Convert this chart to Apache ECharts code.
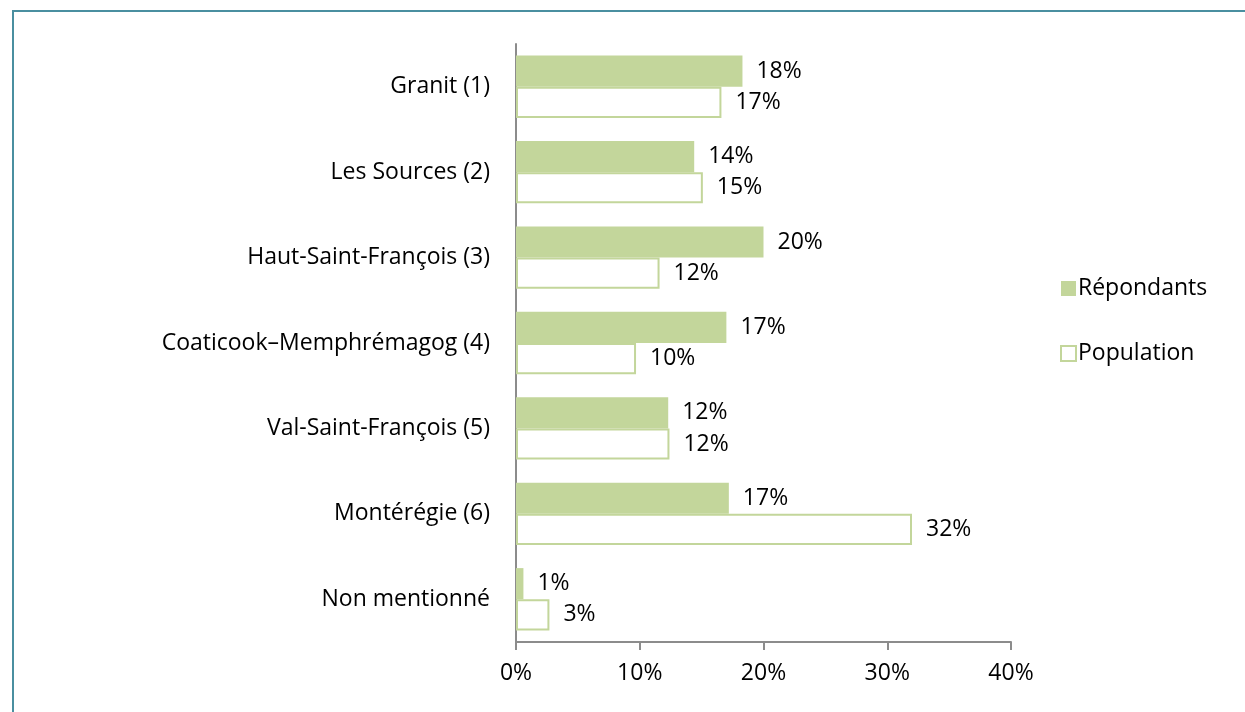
<!DOCTYPE html>
<html>
<head>
<meta charset="utf-8">
<script src="https://cdn.jsdelivr.net/npm/echarts@6/dist/echarts.min.js"></script>
<style>
  html, body { margin: 0; padding: 0; background: #fff; }
  #frame { position: absolute; left: 12px; top: 10px; width: 1240px; height: 710px;
           border-top: 2px solid #4a8fa0; border-left: 2px solid #4a8fa0; }
  #drew { position: absolute; left: 0; top: 0; width: 1245px; height: 712px; }
</style>
</head>
<body>
<div id="frame"></div>
<div id="drew"></div>
<script>
var categories = ['Granit (1)', 'Les Sources (2)', 'Haut-Saint-François (3)',
  'Coaticook–Memphrémagog (4)', 'Val-Saint-François (5)', 'Montérégie (6)', 'Non mentionné'];
var repondants = [18.3, 14.4, 20.0, 17.0, 12.3, 17.2, 0.6];
var population = [16.6, 15.1, 11.6, 9.7, 12.4, 32.0, 2.7];
var seriesNames = ['Répondants', 'Population'];

var green = '#c3d69b';
var font = '"Open Sans", sans-serif';
var fs = 23;

var myChart = echarts.init(document.getElementById('drew'));
var pctLabel = {
    show: true,
    position: 'right',
    distance: 14,
    color: '#000',
    fontFamily: font,
    fontSize: fs,
    formatter: function (p) { return Math.round(p.value) + '%'; }
};
var option = {
    backgroundColor: 'transparent',
    textStyle: { fontFamily: font },
    grid: { left: 516, right: 234, top: 44, bottom: 70 },
    legend: {
        orient: 'vertical',
        left: 1055,
        top: 272,
        itemGap: 42,
        itemWidth: 15,
        itemHeight: 15,
        icon: 'rect',
        textStyle: { fontFamily: font, fontSize: fs, color: '#000', padding: [0, 0, 0, -3] },
        data: seriesNames
    },
    xAxis: {
        type: 'value',
        min: 0,
        max: 40,
        interval: 10,
        axisLine: { show: true, lineStyle: { color: '#8c8c8c', width: 2 } },
        axisTick: { show: true, length: 8, lineStyle: { color: '#8c8c8c', width: 2 } },
        splitLine: { show: false },
        axisLabel: { color: '#000', fontFamily: font, fontSize: fs, margin: 20,
                     formatter: '{value}%' }
    },
    yAxis: {
        type: 'category',
        inverse: true,
        data: categories,
        axisLine: { show: true, lineStyle: { color: '#8c8c8c', width: 2 } },
        axisTick: { show: false },
        axisLabel: { color: '#000', fontFamily: font, fontSize: fs, margin: 26 }
    },
    series: [{
        name: seriesNames[0],
        type: 'bar',
        data: repondants,
        barGap: '0%',
        barCategoryGap: '27%',
        itemStyle: { color: green },
        label: pctLabel
    }, {
        name: seriesNames[1],
        type: 'bar',
        data: population,
        itemStyle: { color: '#fff', borderColor: green, borderWidth: 2 },
        label: pctLabel
    }]
};
myChart.setOption(option);
</script>
</body>
</html>
